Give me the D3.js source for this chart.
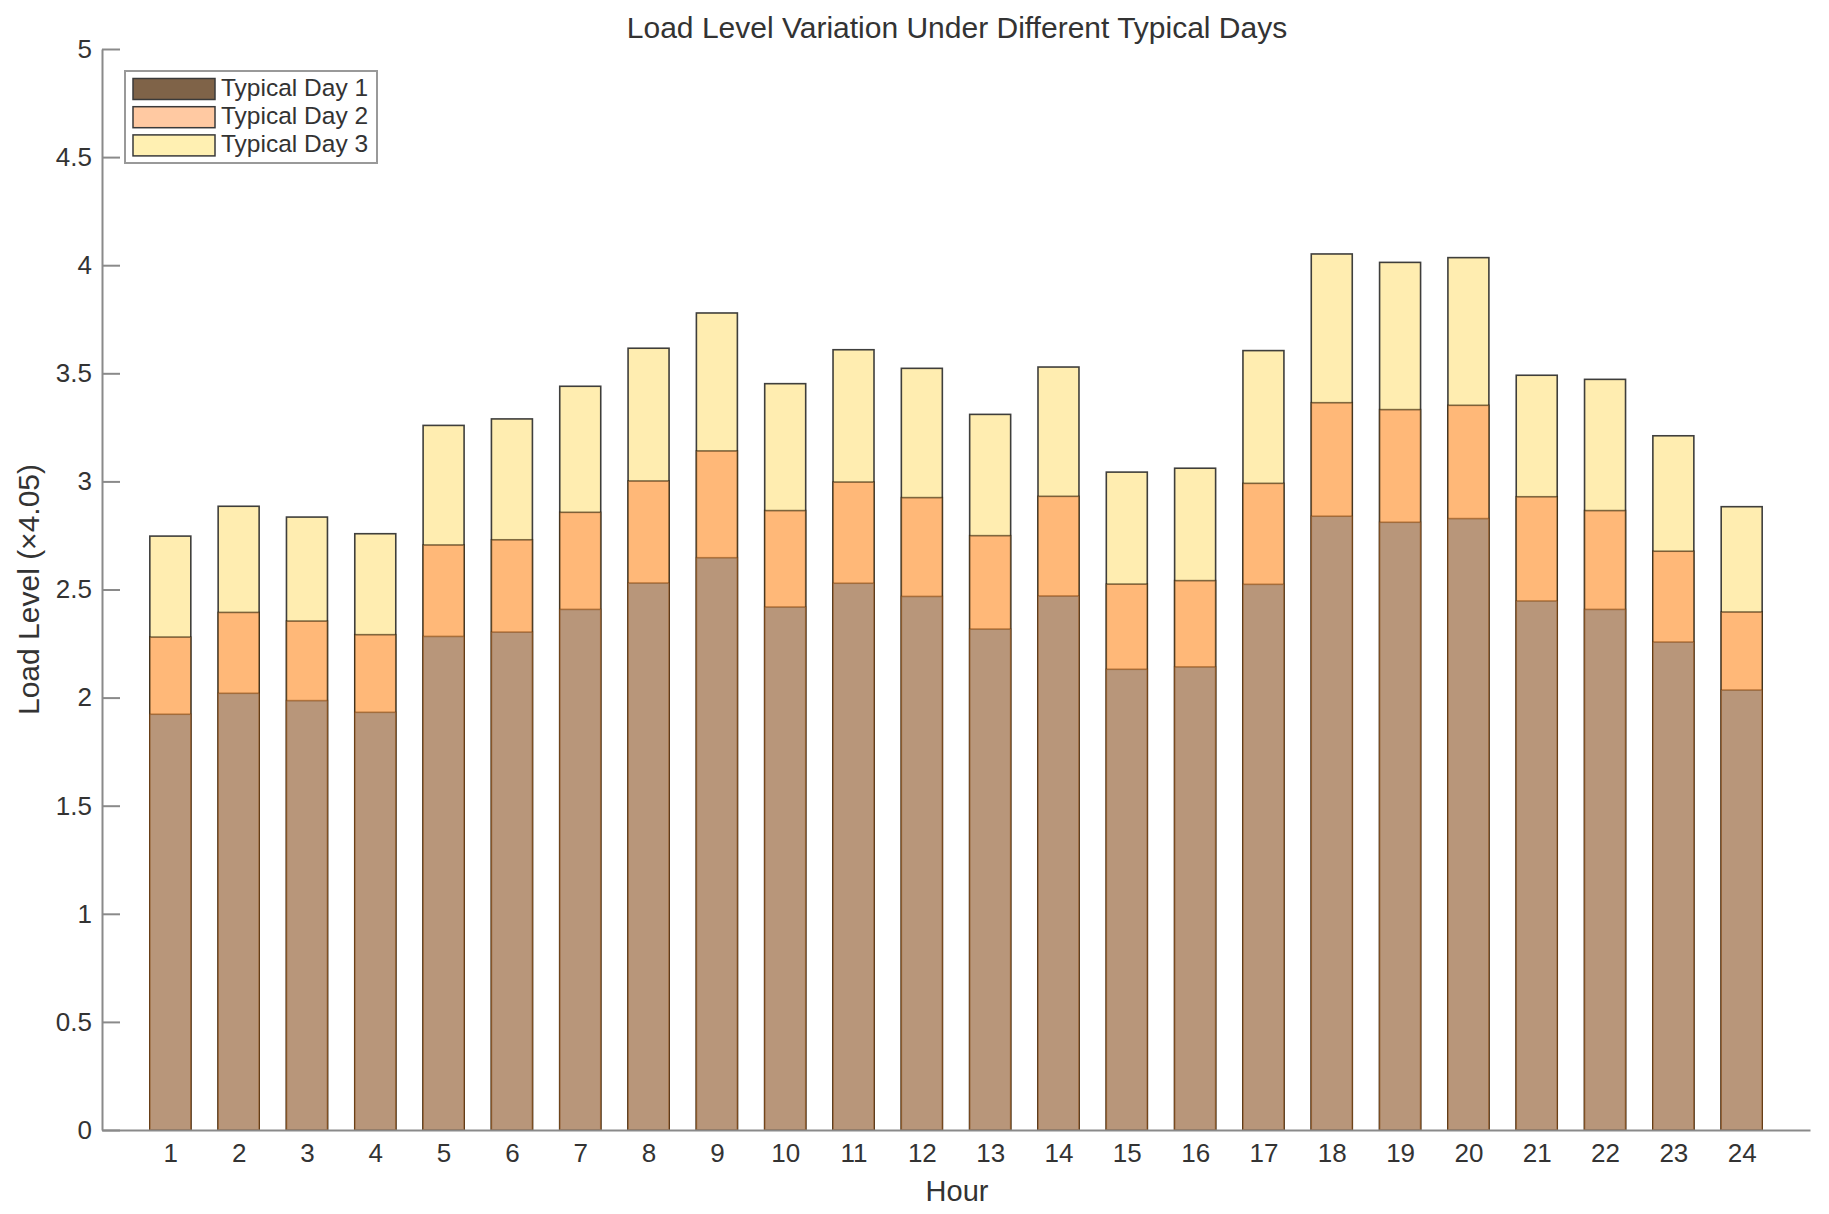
<!DOCTYPE html>
<html>
<head>
<meta charset="utf-8">
<script src="https://cdn.jsdelivr.net/npm/d3@7"></script>
<style>
html,body{margin:0;padding:0;background:#fff;}
svg{display:block;font-family:"Liberation Sans",Arial,Helvetica,sans-serif;}
</style>
</head>
<body>
<svg id="chart" width="1829" height="1214"></svg>
<script>
const hours = [1,2,3,4,5,6,7,8,9,10,11,12,13,14,15,16,17,18,19,20,21,22,23,24];
const day1 = [1.923,2.020,1.986,1.932,2.283,2.303,2.408,2.530,2.647,2.419,2.529,2.468,2.317,2.470,2.131,2.142,2.524,2.839,2.811,2.828,2.447,2.408,2.257,2.035];
const day2 = [2.280,2.394,2.354,2.291,2.706,2.730,2.857,3.002,3.141,2.865,2.997,2.925,2.749,2.931,2.525,2.541,2.991,3.364,3.332,3.352,2.929,2.865,2.677,2.396];
const day3 = [2.747,2.885,2.835,2.758,3.259,3.289,3.440,3.616,3.779,3.452,3.609,3.523,3.310,3.529,3.043,3.061,3.605,4.052,4.013,4.035,3.491,3.472,3.211,2.883];
const seriesNames = ["Typical Day 1","Typical Day 2","Typical Day 3"];
const yTicks = [0,0.5,1,1.5,2,2.5,3,3.5,4,4.5,5];
const titleText = "Load Level Variation Under Different Typical Days";
const xLabel = "Hour";
const yLabel = "Load Level (×4.05)";

const barFill = ["#b8967a","#ffb878","#ffedb0"];
const legendFill = ["#7f6348","#ffc9a2","#fff0b2"];
const textColor = "#333333";
const axisColor = "#8a8a8a";

const svg = d3.select("#chart");
svg.append("rect").attr("width",1829).attr("height",1214).attr("fill","#fff");

const x = d3.scaleLinear().domain([0,25]).range([102,1810]);
const y = d3.scaleLinear().domain([0,5]).range([1130,49]);
const bw = x(0.6) - x(0);

// bars: day3 behind, then day2, then day1 (overlaid from 0)
const layers = [
  {data: day3, fill: barFill[2], stroke: "#2a2a2a", sop: 0.9},
  {data: day2, fill: barFill[1], stroke: "#2a1a00", sop: 0.6},
  {data: day1, fill: barFill[0], stroke: "#7a3a00", sop: 0.5}
];
layers.forEach(L => {
  svg.append("g").selectAll("rect").data(hours).join("rect")
    .attr("x", (h) => x(h) - bw/2)
    .attr("y", (h,i) => y(L.data[i]))
    .attr("width", bw)
    .attr("height", (h,i) => y(0) - y(L.data[i]))
    .attr("fill", L.fill)
    .attr("stroke", L.stroke)
    .attr("stroke-opacity", L.sop)
    .attr("stroke-width", 1.6);
});

// axes
const yAxis = d3.axisLeft(y).tickValues(yTicks).tickSize(0).tickPadding(10).tickFormat(d3.format("~g"));
const gy = svg.append("g").attr("transform", `translate(${x(0)},0)`).call(yAxis);
gy.select(".domain").attr("stroke", axisColor).attr("stroke-width", 2);
gy.selectAll(".tick text").attr("font-size", 26).attr("fill", textColor)
  .attr("font-family", "Liberation Sans, Arial, sans-serif");
gy.selectAll(".tick").append("line").attr("x1",0).attr("x2",18).attr("y1",0).attr("y2",0)
  .attr("stroke", axisColor).attr("stroke-width", 2);

const xAxis = d3.axisBottom(x).tickValues(hours).tickSize(0).tickPadding(14).tickFormat(d3.format("d"));
const gx = svg.append("g").attr("transform", `translate(0,${y(0)})`).call(xAxis);
gx.select(".domain").attr("stroke", axisColor).attr("stroke-width", 2);
gx.selectAll(".tick text").attr("font-size", 26).attr("fill", textColor)
  .attr("font-family", "Liberation Sans, Arial, sans-serif");

// title & labels
svg.append("text").attr("x", 957).attr("y", 38).attr("text-anchor","middle")
  .attr("font-size", 30).attr("fill", textColor).text(titleText);
svg.append("text").attr("x", 957).attr("y", 1201).attr("text-anchor","middle")
  .attr("font-size", 29).attr("fill", textColor).text(xLabel);
svg.append("text").attr("transform", `translate(39,${(y(0)+y(5))/2}) rotate(-90)`)
  .attr("text-anchor","middle").attr("font-size", 30).attr("fill", textColor).text(yLabel);

// legend
const lg = svg.append("g");
lg.append("rect").attr("x",125).attr("y",71).attr("width",252).attr("height",92)
  .attr("fill","#fff").attr("stroke","#999").attr("stroke-width",2);
seriesNames.forEach((n,i) => {
  const yy = 78.5 + i*28.2;
  lg.append("rect").attr("x",133).attr("y",yy).attr("width",82).attr("height",21)
    .attr("fill",legendFill[i]).attr("stroke","#3a3a3a").attr("stroke-width",1.5);
  lg.append("text").attr("x",221).attr("y",yy+17).attr("font-size",24.5)
    .attr("fill",textColor).text(n);
});
</script>
</body>
</html>
